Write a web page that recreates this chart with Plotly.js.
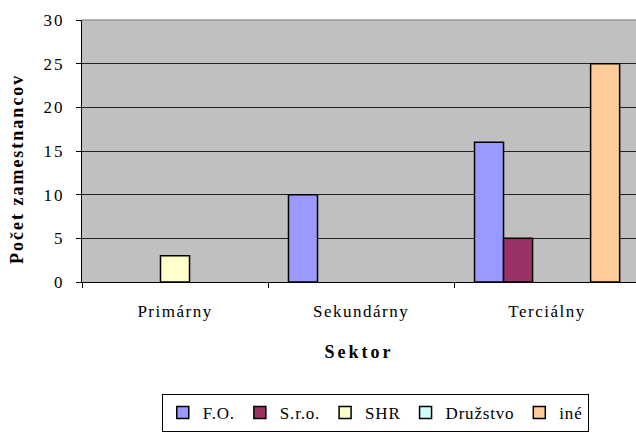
<!DOCTYPE html>
<html>
<head>
<meta charset="utf-8">
<script src="https://cdn.plot.ly/plotly-3.0.1.min.js"></script>
<style>
  html, body { margin: 0; padding: 0; background: #fff; overflow: hidden; }
  #chart { width: 636px; height: 434px; }
  .xtick text { letter-spacing: 1.5px; }
  .ytick text { letter-spacing: 2px; }
  .g-xtitle text, text.xtitle { letter-spacing: 3px; }
  text.legendtext { letter-spacing: 0.8px; }
  .annotation-text { letter-spacing: 2px; }
</style>
</head>
<body>
<div id="chart"></div>
<script>
var categories = ['Primárny', 'Sekundárny', 'Terciálny'];
var seriesNames = ['F.O.', 'S.r.o.', 'SHR', 'Družstvo', 'iné'];
var foValues = [null, 10, 16];
var sroValues = [null, null, 5];
var shrValues = [3, null, null];
var druzstvoValues = [null, null, null];
var ineValues = [null, null, 25];
var yTicks = [0, 5, 10, 15, 20, 25, 30];

var seriesValues = [foValues, sroValues, shrValues, druzstvoValues, ineValues];
var colors = ['#9999FF', '#993366', '#FFFFCC', '#CCFFFF', '#FFCC99'];
var serif = 'Liberation Serif';

var traces = seriesNames.map(function (name, i) {
  return {
    type: 'bar',
    name: name,
    x: categories,
    y: seriesValues[i],
    marker: { color: colors[i], line: { color: '#000', width: 1.5 } },
    hoverinfo: 'skip'
  };
});

var layout = {
  width: 636,
  height: 434,
  margin: { l: 82, r: 0, t: 20, b: 152 },
  paper_bgcolor: '#ffffff',
  plot_bgcolor: '#C0C0C0',
  barmode: 'group',
  bargap: 0.22,
  bargroupgap: 0,
  font: { family: serif, color: '#000', size: 16 },
  xaxis: {
    type: 'category',
    range: [-0.5, 2.478],
    tickson: 'boundaries',
    ticks: 'outside',
    ticklen: 5,
    tickcolor: '#000',
    ticklabelstandoff: 14,
    tickfont: { family: serif, size: 17, color: '#000' },
    showline: true,
    linecolor: '#000',
    linewidth: 1,
    showgrid: false,
    zeroline: false,
    title: { text: '<b>Sektor</b>', font: { family: serif, size: 18, color: '#000' }, standoff: 24 }
  },
  yaxis: {
    range: [0, 30],
    tickvals: yTicks,
    ticks: 'outside',
    ticklen: 5,
    tickcolor: '#000',
    ticklabelstandoff: 8,
    tickfont: { family: serif, size: 17, color: '#000' },
    showline: true,
    linecolor: '#000',
    linewidth: 1,
    showgrid: true,
    gridcolor: '#222',
    gridwidth: 1,
    zeroline: false
  },
  showlegend: true,
  legend: {
    orientation: 'h',
    x: 0.144,
    xanchor: 'left',
    y: -0.4275,
    yanchor: 'top',
    bgcolor: '#fff',
    bordercolor: '#000',
    borderwidth: 1,
    font: { family: serif, size: 17, color: '#000' },
    traceorder: 'normal',
    itemclick: false
  },
  shapes: [{
    type: 'line', xref: 'paper', yref: 'paper',
    x0: 0, x1: 1, y0: 1, y1: 1,
    line: { color: '#999', width: 1.5 }
  }],
  annotations: [{
    text: '<b>Počet zamestnancov</b>',
    xref: 'paper', yref: 'paper',
    x: -0.116, y: 0.43,
    xanchor: 'center', yanchor: 'middle',
    textangle: -90,
    showarrow: false,
    font: { family: serif, size: 18, color: '#000' }
  }]
};

Plotly.newPlot('chart', traces, layout, { staticPlot: true, displayModeBar: false });
</script>
</body>
</html>
